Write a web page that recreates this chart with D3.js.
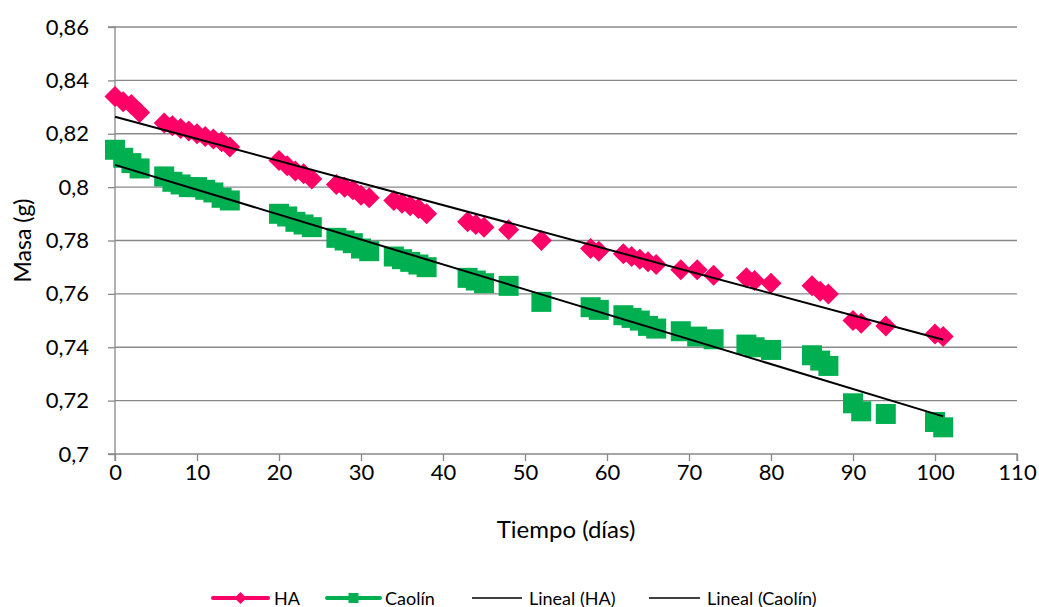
<!DOCTYPE html>
<html>
<head>
<meta charset="utf-8">
<script src="https://cdn.jsdelivr.net/npm/d3@7"></script>
<style>
  html, body { margin: 0; padding: 0; background: #ffffff; }
  svg { display: block; }
  text { font-family: Lato, "Open Sans", sans-serif; fill: #000; }
</style>
</head>
<body>
<div id="chart"></div>
<script>
// ---- Data ----
const daysHA = [0,1,2,3,6,7,8,9,10,11,12,13,14,20,21,22,23,24,27,28,29,30,31,34,35,36,37,38,43,44,45,48,52,58,59,62,63,64,65,66,69,71,73,77,78,80,85,86,87,90,91,94,100,101];
const massHA = [0.834,0.832,0.831,0.828,0.824,0.823,0.822,0.821,0.820,0.819,0.818,0.817,0.815,0.810,0.808,0.806,0.805,0.803,0.801,0.800,0.799,0.797,0.796,0.795,0.794,0.793,0.792,0.790,0.787,0.786,0.785,0.784,0.780,0.777,0.776,0.775,0.774,0.773,0.772,0.771,0.769,0.769,0.767,0.766,0.765,0.764,0.763,0.761,0.760,0.750,0.749,0.748,0.745,0.744];
const daysCaolin = [0,1,2,3,6,7,8,9,10,11,12,13,14,20,21,22,23,24,27,28,29,30,31,34,35,36,37,38,43,44,45,48,52,58,59,62,63,64,65,66,69,71,73,77,78,80,85,86,87,90,91,94,100,101];
const massCaolin = [0.814,0.811,0.809,0.807,0.804,0.802,0.801,0.800,0.800,0.799,0.798,0.796,0.795,0.790,0.789,0.787,0.786,0.785,0.781,0.780,0.779,0.777,0.776,0.774,0.773,0.772,0.771,0.770,0.766,0.765,0.764,0.763,0.757,0.755,0.754,0.752,0.751,0.750,0.748,0.747,0.746,0.744,0.743,0.741,0.740,0.739,0.737,0.735,0.733,0.719,0.716,0.715,0.712,0.710];
const xTicks = [0,10,20,30,40,50,60,70,80,90,100,110];
const yTicks = [0.70,0.72,0.74,0.76,0.78,0.80,0.82,0.84,0.86];
const seriesNames = ["HA","Caolín","Lineal (HA)","Lineal (Caolín)"];
const xTitle = "Tiempo (días)";
const yTitle = "Masa (g)";

const colorHA = "#FF0066";
const colorCaolin = "#00B050";
const gridColor = "#898989";

const W = 1039, H = 607;
const svg = d3.select("#chart").append("svg").attr("width", W).attr("height", H);

const x = d3.scaleLinear().domain([0,110]).range([115,1017]);
const y = d3.scaleLinear().domain([0.70,0.86]).range([454,27]);

const fmt = v => String(+v.toFixed(2)).replace(".", ",");

// gridlines
svg.append("g").selectAll("line").data(yTicks.filter(v => v > 0.70)).join("line")
  .attr("x1", x(0)).attr("x2", x(110))
  .attr("y1", d => y(d)).attr("y2", d => y(d))
  .attr("stroke", gridColor).attr("stroke-width", 1.3);

// axes
const yAxis = d3.axisLeft(y).tickValues(yTicks).tickFormat(fmt).tickSize(7).tickPadding(19);
const gy = svg.append("g").attr("transform", `translate(${x(0)},0)`).call(yAxis);
const xAxis = d3.axisBottom(x).tickValues(xTicks).tickFormat(d3.format("d")).tickSize(7).tickPadding(3);
const gx = svg.append("g").attr("transform", `translate(0,${y(0.70)})`).call(xAxis);
[gx, gy].forEach(g => {
  g.select(".domain").attr("stroke", gridColor).attr("stroke-width", 1.3);
  g.selectAll(".tick line").attr("stroke", gridColor).attr("stroke-width", 1.3);
  g.selectAll(".tick text").attr("font-family", "Lato, 'Open Sans', sans-serif").attr("font-size", 22).attr("fill", "#000");
});
gy.select(".domain").attr("d", `M-7,${y(0.86)}H0V${y(0.70)}H-7`);
gx.select(".domain").attr("d", `M${x(0)},7V0H${x(110)}V7`);

// titles
svg.append("text").attr("x", (x(0)+x(110))/2).attr("y", 538).attr("text-anchor", "middle")
  .attr("font-size", 24).text(xTitle);
svg.append("text").attr("transform", `translate(31,${(y(0.86)+y(0.70))/2}) rotate(-90)`)
  .attr("text-anchor", "middle").attr("font-size", 23).text(yTitle);

// markers
const diamond = (cx, cy, r) => `M${cx},${cy-r}L${cx+r},${cy}L${cx},${cy+r}L${cx-r},${cy}Z`;
const dataHA = daysHA.map((d,i) => [d, massHA[i]]);
const dataCa = daysCaolin.map((d,i) => [d, massCaolin[i]]);

svg.append("g").selectAll("path").data(dataHA).join("path")
  .attr("d", d => diamond(x(d[0]), y(d[1]), 10.5))
  .attr("fill", colorHA);

svg.append("g").selectAll("rect").data(dataCa).join("rect")
  .attr("x", d => x(d[0]) - 10).attr("y", d => y(d[1]) - 10)
  .attr("width", 20).attr("height", 20)
  .attr("fill", colorCaolin);

// linear trendlines (least squares)
function fit(pts) {
  const mx = d3.mean(pts, p => p[0]), my = d3.mean(pts, p => p[1]);
  let sxy = 0, sxx = 0;
  pts.forEach(p => { sxy += (p[0]-mx)*(p[1]-my); sxx += (p[0]-mx)**2; });
  const b = sxy / sxx, a = my - b*mx;
  const x0 = d3.min(pts, p => p[0]), x1 = d3.max(pts, p => p[0]);
  return [[x0, a + b*x0], [x1, a + b*x1]];
}
const line = d3.line().x(d => x(d[0])).y(d => y(d[1]));
[fit(dataHA), fit(dataCa)].forEach(seg => {
  svg.append("path").attr("d", line(seg)).attr("fill", "none")
    .attr("stroke", "#000").attr("stroke-width", 2);
});

// legend
const ly = 598;
const leg = svg.append("g");
const items = [
  {x0: 213, x1: 268, tx: 274, type: "diamond", color: colorHA, name: seriesNames[0]},
  {x0: 327, x1: 380, tx: 385, type: "square", color: colorCaolin, name: seriesNames[1]},
  {x0: 472, x1: 522, tx: 529, type: "line", color: "#000", name: seriesNames[2]},
  {x0: 649, x1: 700, tx: 707, type: "line", color: "#000", name: seriesNames[3]}
];
items.forEach(it => {
  leg.append("line").attr("x1", it.x0).attr("x2", it.x1).attr("y1", ly).attr("y2", ly)
    .attr("stroke", it.color).attr("stroke-width", it.type === "line" ? 1.6 : 4)
    .attr("stroke-linecap", it.type === "line" ? "butt" : "round");
  const cx = (it.x0 + it.x1) / 2;
  if (it.type === "diamond") {
    leg.append("path").attr("d", diamond(cx, ly, 6)).attr("fill", it.color);
  } else if (it.type === "square") {
    leg.append("rect").attr("x", cx-5).attr("y", ly-5).attr("width", 10).attr("height", 10).attr("fill", it.color);
  }
  leg.append("text").attr("x", it.tx).attr("y", ly + 6.5).attr("font-size", 18).text(it.name);
});
</script>
</body>
</html>
